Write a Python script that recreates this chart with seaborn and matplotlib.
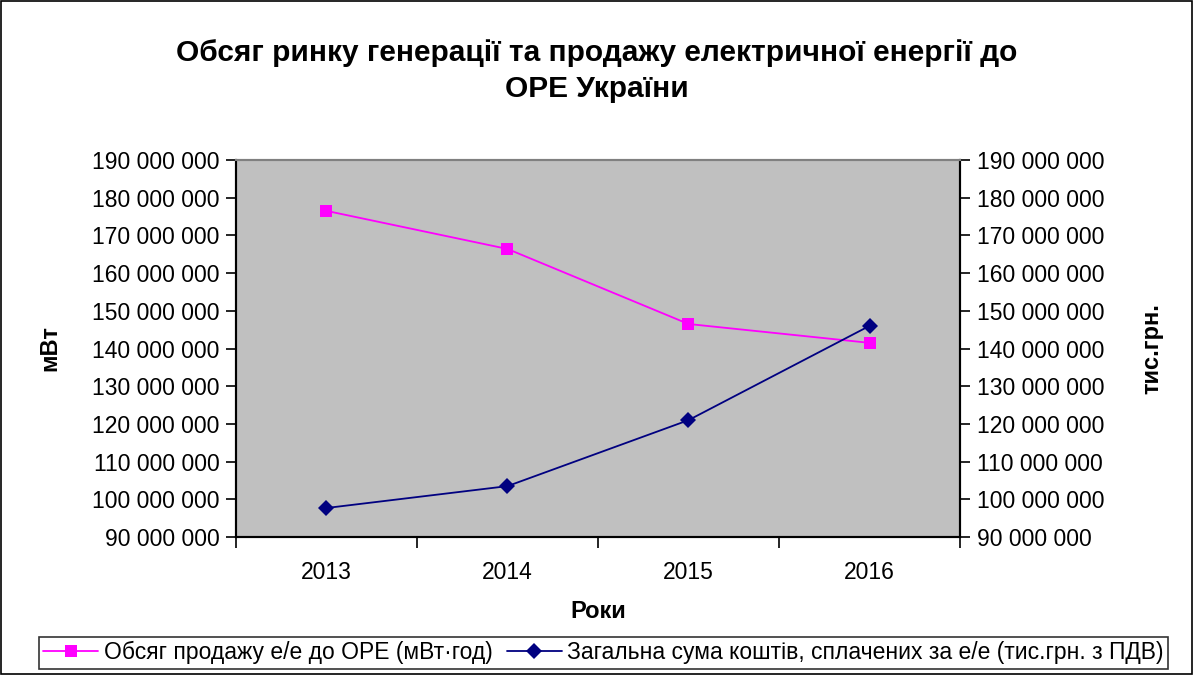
import matplotlib
matplotlib.use("Agg")
import matplotlib.pyplot as plt
import matplotlib.ticker as mticker
import pandas as pd
import seaborn as sns

# data
years = ["2013", "2014", "2015", "2016"]
sales_mwh = [176500000, 166400000, 146500000, 141500000]   # mBt·год
paid_uah = [97700000, 103500000, 121000000, 146000000]     # тис.грн. з ПДВ
label_sales = "Обсяг продажу е/е до ОРЕ (мВт·год)"
label_paid = "Загальна сума коштів, сплачених за е/е (тис.грн. з ПДВ)"

df = pd.DataFrame({"x": range(len(years)), "sales": sales_mwh, "paid": paid_uah})

sns.set_style("white")
plt.rcParams["font.family"] = ["Liberation Sans", "DejaVu Sans"]
plt.rcParams["text.color"] = "black"
plt.rcParams["axes.labelcolor"] = "black"
plt.rcParams["xtick.color"] = "black"
plt.rcParams["ytick.color"] = "black"

fig = plt.figure(figsize=(11.93, 6.75), dpi=100)
ax = fig.add_axes([0.1978, 0.2044, 0.6069, 0.5586])
ax.set_facecolor("#c0c0c0")

sns.lineplot(data=df, x="x", y="sales", ax=ax, color="#ff00ff", marker="s",
             markersize=9, markeredgewidth=0, linewidth=1.3, label=label_sales)
ax2 = ax.twinx()
sns.lineplot(data=df, x="x", y="paid", ax=ax2, color="#000080", marker="D",
             markersize=8, markeredgewidth=0, linewidth=1.3, label=label_paid)

fmt = mticker.FuncFormatter(lambda v, p: f"{int(v):,}".replace(",", " "))
for a in (ax, ax2):
    a.set_ylim(90000000, 190000000)
    a.yaxis.set_major_locator(mticker.MultipleLocator(10000000))
    a.yaxis.set_major_formatter(fmt)
    a.tick_params(axis="y", labelsize=16.5, length=7, width=1.2, direction="out", pad=5)
    for s in a.spines.values():
        s.set_visible(True)
        s.set_color("black")
        s.set_linewidth(1.5)
    a.spines["top"].set_color("#808080")

ax.set_xlim(-0.5, 3.5)
ax.set_xticks([-0.5, 0.5, 1.5, 2.5, 3.5])
ax.set_xticklabels([])
ax.set_xticks(range(len(years)), minor=True)
ax.set_xticklabels(years, minor=True)
ax.tick_params(axis="x", which="major", length=8, width=1.2, direction="out", bottom=True)
ax.tick_params(axis="x", which="minor", length=0, labelsize=16.5, pad=17)

ax.set_xlabel("Роки", fontsize=17, fontweight="bold", labelpad=12)
ax.set_ylabel("мВт", fontsize=17, fontweight="bold", labelpad=22)
ax2.set_ylabel("тис.грн.", fontsize=17, fontweight="bold", labelpad=26)

ax.get_legend().remove()
ax2.get_legend().remove()
h1, l1 = ax.get_legend_handles_labels()
h2, l2 = ax2.get_legend_handles_labels()
leg = fig.legend(h1 + h2, l1 + l2, loc="lower center", bbox_to_anchor=(0.506, 0.002), ncol=2,
                 fontsize=16.5, frameon=True, fancybox=False, handlelength=2.4,
                 columnspacing=0.6, handletextpad=0.25, borderpad=0.2, borderaxespad=0.2)
leg.get_frame().set_edgecolor("black")
leg.get_frame().set_linewidth(1.2)

fig.suptitle("Обсяг ринку генерації та продажу електричної енергії до\nОРЕ України",
             fontsize=21.5, fontweight="bold", y=0.942, linespacing=1.35)

fig.patches.append(plt.Rectangle((0.001, 0.001), 0.998, 0.998, transform=fig.transFigure,
                                 fill=False, edgecolor="black", linewidth=1.2))

fig.savefig("out.png", dpi=100)
